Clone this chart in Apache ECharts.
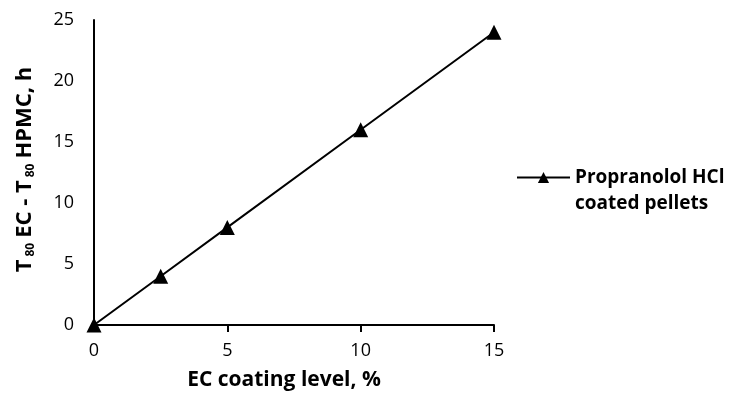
<!DOCTYPE html>
<html><head><meta charset="utf-8">
<script src="https://cdn.jsdelivr.net/npm/echarts@6/dist/echarts.min.js"></script>
<style>html,body{margin:0;padding:0;background:#fff}#c{width:732px;height:396px}</style>
</head><body><div id="c"></div>
<script>
const coatingLevel = [0, 2.5, 5, 10, 15];
const deltaT80 = [0, 4, 8, 16, 24];
const seriesName = 'Propranolol HCl coated pellets';
const legendLines = ['Propranolol HCl', 'coated pellets'];
const xTitle = 'EC coating level, %';
const FONT = '"Open Sans", sans-serif';

const chart = echarts.init(document.getElementById('c'));
chart.setOption({
  animation: false,
  backgroundColor: '#fff',
  textStyle: { fontFamily: FONT },
  grid: { left: 94, right: 238, top: 20, bottom: 70 },
  legend: {
    left: 516, top: 142, padding: 0,
    itemWidth: 53, itemHeight: 14, itemGap: 5,
    data: [seriesName],
    formatter: () => '{a|\u00a0}\n{a|' + legendLines[0] + '}\n{a|' + legendLines[1] + '}',
    textStyle: {
      rich: { a: { fontFamily: FONT, fontSize: 19, fontWeight: 'bold', color: '#000', lineHeight: 26 } }
    }
  },
  xAxis: {
    type: 'value', min: 0, max: 15, interval: 5,
    name: xTitle, nameLocation: 'middle', nameGap: 45,
    nameTextStyle: { fontFamily: FONT, fontSize: 21, fontWeight: 'bold', color: '#000', padding: [0, 20, 0, 0] },
    axisLine: { lineStyle: { color: '#000', width: 2 } },
    axisTick: { show: true, length: 7, lineStyle: { color: '#000', width: 2 } },
    axisLabel: { color: '#000', fontSize: 18, margin: 17, fontFamily: FONT },
    splitLine: { show: false }
  },
  yAxis: {
    type: 'value', min: 0, max: 25, interval: 5,
    name: '{b|T}{s|80}{b|EC - T}{s|80}{b|HPMC, h}',
    nameLocation: 'middle', nameGap: 56, nameRotate: 90,
    nameTextStyle: {
      padding: [0, 0, 0, 6],
      rich: {
        b: { fontFamily: FONT, fontSize: 22, fontWeight: 'bold', color: '#000', lineHeight: 26 },
        s: { fontFamily: FONT, fontSize: 12, fontWeight: 'bold', color: '#000', lineHeight: 26, padding: [12, 5, 0, 3] }
      }
    },
    axisLine: { show: true, lineStyle: { color: '#000', width: 2 } },
    axisTick: { show: false },
    axisLabel: { color: '#000', fontSize: 18, margin: 20, fontFamily: FONT },
    splitLine: { show: false }
  },
  series: [{
    name: seriesName,
    type: 'line',
    data: coatingLevel.map((x, i) => [x, deltaT80[i]]),
    symbol: 'triangle', symbolSize: 15,
    lineStyle: { color: '#000', width: 2 },
    itemStyle: { color: '#000' }
  }]
});
</script></body></html>
